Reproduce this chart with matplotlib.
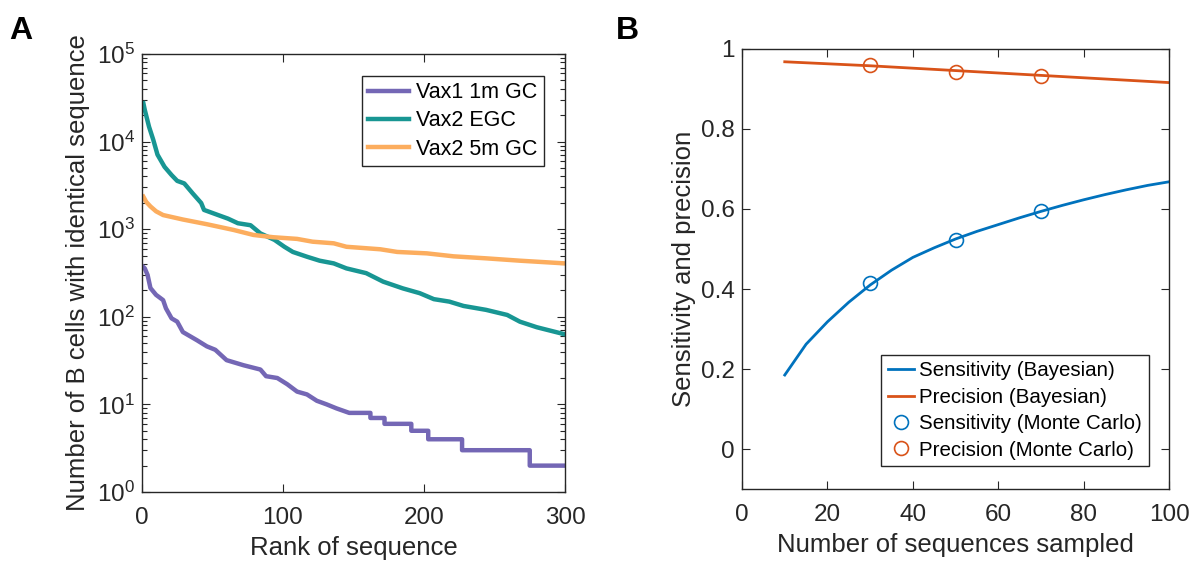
"""Two-panel figure: clone abundance ranks (A) and sampling sensitivity/precision (B)."""

import matplotlib
matplotlib.use('Agg')
import matplotlib.pyplot as plt
from matplotlib.ticker import LogLocator, NullFormatter, MultipleLocator

plt.rcParams['font.family'] = ['Liberation Sans', 'DejaVu Sans']
plt.rcParams['mathtext.fontset'] = 'custom'
plt.rcParams['mathtext.rm'] = 'Liberation Sans'

# Panel A: number of B cells per sequence, by rank
vax1_rank = [1, 2, 4, 6, 10, 15, 17, 21, 25, 29, 39, 46, 52, 60, 72, 84, 88, 96,
             103, 110, 117, 124, 131, 138, 147, 162, 162, 172, 172, 191, 191,
             203, 203, 227, 227, 275, 275, 300]
vax1_count = [370, 357, 300, 213, 178, 155, 125, 96, 88, 67, 54, 46, 42, 32, 28,
              25, 21, 20, 17, 14, 13, 11, 10, 9, 8, 8, 7, 7, 6, 6, 5, 5, 4, 4,
              3, 3, 2, 2]

egc_rank = [1, 2, 5, 8, 11, 16, 21, 25, 30, 36, 42, 44, 54, 61, 68, 77, 84, 94,
            101, 107, 117, 126, 136, 145, 159, 171, 185, 197, 207, 218, 228,
            244, 259, 268, 280, 300]
egc_count = [27400, 23000, 14800, 10500, 7100, 5150, 4150, 3560, 3330, 2560,
             1990, 1660, 1450, 1320, 1170, 1110, 895, 755, 630, 550, 485, 437,
             407, 357, 315, 252, 211, 186, 159, 149, 133, 120, 105, 88, 76, 63]

gc5_rank = [1, 3, 6, 10, 15, 29, 46, 65, 79, 93, 110, 121, 136, 145, 169, 181,
            202, 221, 244, 268, 300]
gc5_count = [2350, 2050, 1820, 1600, 1450, 1290, 1140, 980, 860, 810, 775, 720,
             690, 630, 590, 550, 530, 490, 465, 437, 407]

# Panel B: sensitivity and precision vs number of sequences sampled
n_sampled = [10, 15, 20, 25, 30, 35, 40, 45, 50, 55, 60, 65, 70, 75, 80, 85, 90, 95, 100]
sens_bayes = [0.185, 0.262, 0.318, 0.367, 0.41, 0.447, 0.479, 0.503, 0.525,
              0.544, 0.561, 0.578, 0.594, 0.609, 0.623, 0.636, 0.648, 0.659, 0.668]
prec_n = [10, 20, 30, 40, 50, 60, 70, 80, 90, 100]
prec_bayes = [0.968, 0.963, 0.958, 0.952, 0.946, 0.940, 0.934, 0.928, 0.922, 0.916]
mc_n = [30, 50, 70]
sens_mc = [0.414, 0.523, 0.594]
prec_mc = [0.961, 0.9425, 0.932]

COLORS = {
    "vax1": "#7467B5",
    "egc": "#189693",
    "gc5": "#FCAD5E",
    "sens": "#0072BD",
    "prec": "#D95319",
    "axis": "#262626",
}

TICK_SIZE = 17.5
LABEL_SIZE = 18.5


def _style_axes(ax):
    for spine in ax.spines.values():
        spine.set_color(COLORS["axis"])
        spine.set_linewidth(1.0)
    ax.tick_params(which='both', direction='in', top=True, right=True,
                   colors=COLORS["axis"], labelsize=TICK_SIZE, width=0.8)
    ax.tick_params(which='major', length=6)
    ax.tick_params(which='minor', length=3.5)
    ax.tick_params(axis='x', which='both', pad=11)
    ax.tick_params(axis='y', which='both', pad=5)


def _style_legend(leg):
    frame = leg.get_frame()
    frame.set_edgecolor(COLORS["axis"])
    frame.set_linewidth(1.0)


fig = plt.figure(figsize=(11.89, 5.63), dpi=100)

# ---- Panel A
ax1 = fig.add_axes([0.1194, 0.1261, 0.3558, 0.778])
ax1.plot(vax1_rank, vax1_count, color=COLORS["vax1"], lw=3.2, label='Vax1 1m GC')
ax1.plot(egc_rank, egc_count, color=COLORS["egc"], lw=3.2, label='Vax2 EGC')
ax1.plot(gc5_rank, gc5_count, color=COLORS["gc5"], lw=3.2, label='Vax2 5m GC')
ax1.set_yscale('log')
ax1.set_xlim(0, 300)
ax1.set_ylim(1, 1e5)
ax1.set_xticks([0, 100, 200, 300])
ax1.yaxis.set_major_locator(LogLocator(base=10, numticks=10))
ax1.yaxis.set_minor_locator(LogLocator(base=10, subs=range(2, 10), numticks=10))
ax1.yaxis.set_minor_formatter(NullFormatter())
_style_axes(ax1)
ax1.set_xlabel('Rank of sequence', fontsize=LABEL_SIZE, color=COLORS["axis"], labelpad=5)
ax1.set_ylabel('Number of B cells with identical sequence', fontsize=LABEL_SIZE,
               color=COLORS["axis"], labelpad=5)
leg1 = ax1.legend(loc='upper right', bbox_to_anchor=(0.95, 0.95), borderaxespad=0,
                  fontsize=15.5, fancybox=False, framealpha=1,
                  handlelength=1.9, handletextpad=0.32, labelspacing=0.33,
                  borderpad=0.3)
_style_legend(leg1)

# ---- Panel B
ax2 = fig.add_axes([0.6241, 0.1314, 0.3591, 0.7816])
ax2.plot(n_sampled, sens_bayes, color=COLORS["sens"], lw=2.0, label='Sensitivity (Bayesian)')
ax2.plot(prec_n, prec_bayes, color=COLORS["prec"], lw=2.0, label='Precision (Bayesian)')
ax2.plot(mc_n, sens_mc, 'o', ms=10, mfc='none', mec=COLORS["sens"], mew=1.2,
         label='Sensitivity (Monte Carlo)')
ax2.plot(mc_n, prec_mc, 'o', ms=10, mfc='none', mec=COLORS["prec"], mew=1.2,
         label='Precision (Monte Carlo)')
ax2.set_xlim(0, 100)
ax2.set_ylim(-0.1, 1)
ax2.xaxis.set_major_locator(MultipleLocator(20))
ax2.set_yticks([0, 0.2, 0.4, 0.6, 0.8, 1])
ax2.set_yticklabels(['0', '0.2', '0.4', '0.6', '0.8', '1'])
_style_axes(ax2)
ax2.set_xlabel('Number of sequences sampled', fontsize=LABEL_SIZE, color=COLORS["axis"], labelpad=5)
ax2.set_ylabel('Sensitivity and precision', fontsize=LABEL_SIZE, color=COLORS["axis"], labelpad=4)
leg2 = ax2.legend(loc='lower right', bbox_to_anchor=(0.9525, 0.052), borderaxespad=0,
                  fontsize=14.8, fancybox=False, framealpha=1,
                  handlelength=1.25, handletextpad=0.28, labelspacing=0.36,
                  borderpad=0.32)
_style_legend(leg2)

# panel letters
fig.text(0.008, 0.93, 'A', fontsize=23, fontweight='bold', color='black')
fig.text(0.518, 0.93, 'B', fontsize=23, fontweight='bold', color='black')

fig.savefig('out.png', dpi=100, facecolor='white')
